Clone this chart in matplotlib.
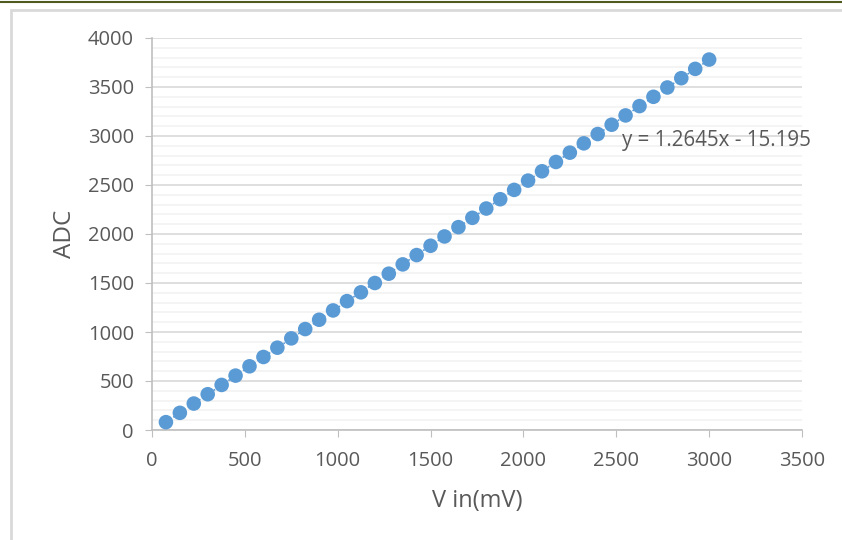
import matplotlib
matplotlib.use('Agg')
import matplotlib.pyplot as plt
import numpy as np
from matplotlib.patches import Rectangle
from matplotlib.lines import Line2D

v_in = [75, 150, 225, 300, 375, 450, 525, 600, 675, 750,
        825, 900, 975, 1050, 1125, 1200, 1275, 1350, 1425, 1500,
        1575, 1650, 1725, 1800, 1875, 1950, 2025, 2100, 2175, 2250,
        2325, 2400, 2475, 2550, 2625, 2700, 2775, 2850, 2925, 3000]
adc = [80, 175, 270, 365, 460, 555, 650, 745, 840, 935,
       1030, 1125, 1220, 1315, 1405, 1500, 1595, 1690, 1785, 1880,
       1975, 2070, 2165, 2260, 2355, 2450, 2545, 2640, 2735, 2830,
       2925, 3020, 3115, 3210, 3305, 3400, 3495, 3590, 3685, 3780]
slope = 1.2645
intercept = -15.195

blue = '#5B9BD5'
txt = '#595959'
plt.rcParams['font.family'] = ['Open Sans', 'DejaVu Sans']

fig = plt.figure(figsize=(8.42, 5.40), dpi=100)
ax = fig.add_axes([152/842, 1 - 430/540, 650/842, 392/540])

# chart frame + top rule
fig.add_artist(Rectangle((11/842, -0.1), 1.0, 1 - 10/540 + 0.1, transform=fig.transFigure,
                         fill=False, edgecolor='#D9D9D9', linewidth=2))
fig.add_artist(Line2D([0, 1], [1 - 1.5/540, 1 - 1.5/540], transform=fig.transFigure,
                      color='#4F5B1F', linewidth=1.5))

# trendline
xs = np.array([v_in[0], v_in[-1]])
ax.plot(xs, slope * xs + intercept, ':', color=blue, linewidth=1.2, zorder=2)
ax.scatter(v_in, adc, s=110, color=blue, edgecolors='none', zorder=3)

ax.text(2531, 2959, 'y = 1.2645x - 15.195', fontsize=14.8, color=txt, va='center', ha='left')

ax.set_xlim(0, 3500)
ax.set_ylim(0, 4000)
ax.set_xticks(np.arange(0, 3501, 500))
ax.set_yticks(np.arange(0, 4001, 500))
ax.set_yticks(np.arange(0, 4001, 100), minor=True)
ax.tick_params(axis='y', which='minor', length=0)
ax.tick_params(which='major', length=5, color='#BFBFBF', labelcolor=txt, labelsize=14.5)
ax.tick_params(axis='x', pad=10)
ax.tick_params(axis='y', pad=8)
ax.grid(axis='y', which='major', color='#D9D9D9', linewidth=1.2)
ax.grid(axis='y', which='minor', color='#F2F2F2', linewidth=1.2)
ax.set_axisbelow(True)
for s in ['top', 'right']:
    ax.spines[s].set_visible(False)
for s in ['left', 'bottom']:
    ax.spines[s].set_color('#BFBFBF')
    ax.spines[s].set_linewidth(1.2)

ax.set_xlabel('V in(mV)', fontsize=17, color=txt, labelpad=13)
ax.set_ylabel('ADC', fontsize=17.5, color=txt, labelpad=8)

fig.savefig('out.png', dpi=100)
